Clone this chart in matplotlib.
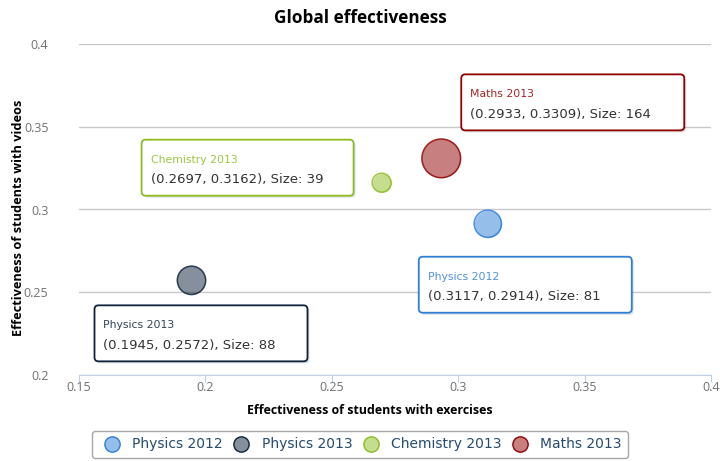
import numpy as np
import matplotlib
matplotlib.use("Agg")
import matplotlib.pyplot as plt
from matplotlib.patches import FancyBboxPatch
from matplotlib.lines import Line2D

# Datos del grafico
series = ['Physics 2012', 'Physics 2013', 'Chemistry 2013', 'Maths 2013']
x_ex = [0.3117, 0.1945, 0.2697, 0.2933]
y_vid = [0.2914, 0.2572, 0.3162, 0.3309]
size_z = [81, 88, 39, 164]
xticks = [0.15, 0.2, 0.25, 0.3, 0.35, 0.4]
yticks = [0.2, 0.25, 0.3, 0.35, 0.4]

# colores (highcharts 3)
colors = ['#2f7ed8', '#0d233a', '#8bbc21', '#910000']
# posicion de cada tooltip respecto al punto (px: izq, arriba, ancho)
tip_offsets = [(-69, 33, 213), (-97, 25, 213), (-240, -43, 212), (20, -84, 223)]

W, H = 7.2, 4.61
fig = plt.figure(figsize=(W, H), dpi=100)
ax = fig.add_axes([79/720, 1-375/461, 632/720, 331/461])

for i in range(len(series)):
    ax.scatter(x_ex[i], y_vid[i], s=size_z[i]*4.74, color=colors[i], alpha=0.5,
               linewidths=0, zorder=3)
    ax.scatter(x_ex[i], y_vid[i], s=size_z[i]*4.74, facecolors='none',
               edgecolors=colors[i], linewidths=1.1, alpha=0.85, zorder=4)

ax.set_xlim(0.15, 0.4)
ax.set_ylim(0.2, 0.4)
ax.set_xticks(xticks)
ax.set_xticklabels([f'{v:g}' for v in xticks])
ax.set_yticks(yticks)
ax.set_yticklabels([f'{v:g}' for v in yticks])
ax.grid(axis='y', color='#c8c8c8', linewidth=1)
ax.set_axisbelow(True)
for s in ['top', 'right', 'left']:
    ax.spines[s].set_visible(False)
ax.spines['bottom'].set_color('#c0d0e0')
ax.tick_params(axis='y', length=0, pad=22, labelsize=9, labelcolor='#707070')
ax.tick_params(axis='x', length=5, color='#c0d0e0', pad=-1, labelsize=9, labelcolor='#707070')
for lb in ax.get_xticklabels() + ax.get_yticklabels():
    lb.set_fontfamily('Open Sans')

ax.set_xlabel('Effectiveness of students with exercises', fontsize=8.9, fontweight='bold',
              family='Open Sans')
ax.xaxis.set_label_coords((370-79)/632, -(404-375)/331)
ax.set_ylabel('Effectiveness of students with videos', fontsize=9.2, fontweight='bold',
              family='Open Sans')
ax.yaxis.set_label_coords((25-79)/632, (375-218)/331)
fig.text(0.5, 1-18/461, 'Global effectiveness', ha='center', va='center', fontsize=12.3,
         fontweight='bold', family='Open Sans')

# tooltips
for i in range(len(series)):
    px, py = ax.transData.transform((x_ex[i], y_vid[i]))
    dx, dy, bw = tip_offsets[i]
    left = px + dx
    top = py - dy
    bh = 56
    shadow = FancyBboxPatch((left+2, top-bh-2), bw, bh, boxstyle='round,pad=0,rounding_size=4',
                            transform=None, facecolor='#000000', alpha=0.12, edgecolor='none',
                            zorder=5)
    box = FancyBboxPatch((left, top-bh), bw, bh, boxstyle='round,pad=0,rounding_size=4',
                         transform=None, facecolor='white', edgecolor=colors[i],
                         linewidth=1.3, alpha=1, zorder=6)
    box.set_edgecolor(matplotlib.colors.to_rgba(colors[i], 0.75))
    fig.patches.extend([shadow, box])
    fig.text((left+9)/720, (top-20)/461, series[i], color=colors[i], fontsize=7.8,
             va='center', ha='left', zorder=7, alpha=0.85)
    fig.text((left+9)/720, (top-40)/461,
             f'({x_ex[i]:.4f}, {y_vid[i]:.4f}), Size: {size_z[i]}',
             color='#333333', fontsize=9.5, va='center', ha='left', zorder=7)

# leyenda
handles = [Line2D([], [], marker='o', linestyle='none', markersize=11,
                  markerfacecolor=matplotlib.colors.to_rgba(c, 0.5),
                  markeredgecolor=c, markeredgewidth=1) for c in colors]
leg = fig.legend(handles, series, loc='lower center', bbox_to_anchor=(0.5, -0.008), ncol=4,
                 frameon=True, fontsize=10, handletextpad=0.45, columnspacing=0.35,
                 borderpad=0.45, fancybox=True, edgecolor='#909090')
leg.get_frame().set_linewidth(1)
for t in leg.get_texts():
    t.set_color('#274b6d')

fig.savefig('out.png', dpi=100)
